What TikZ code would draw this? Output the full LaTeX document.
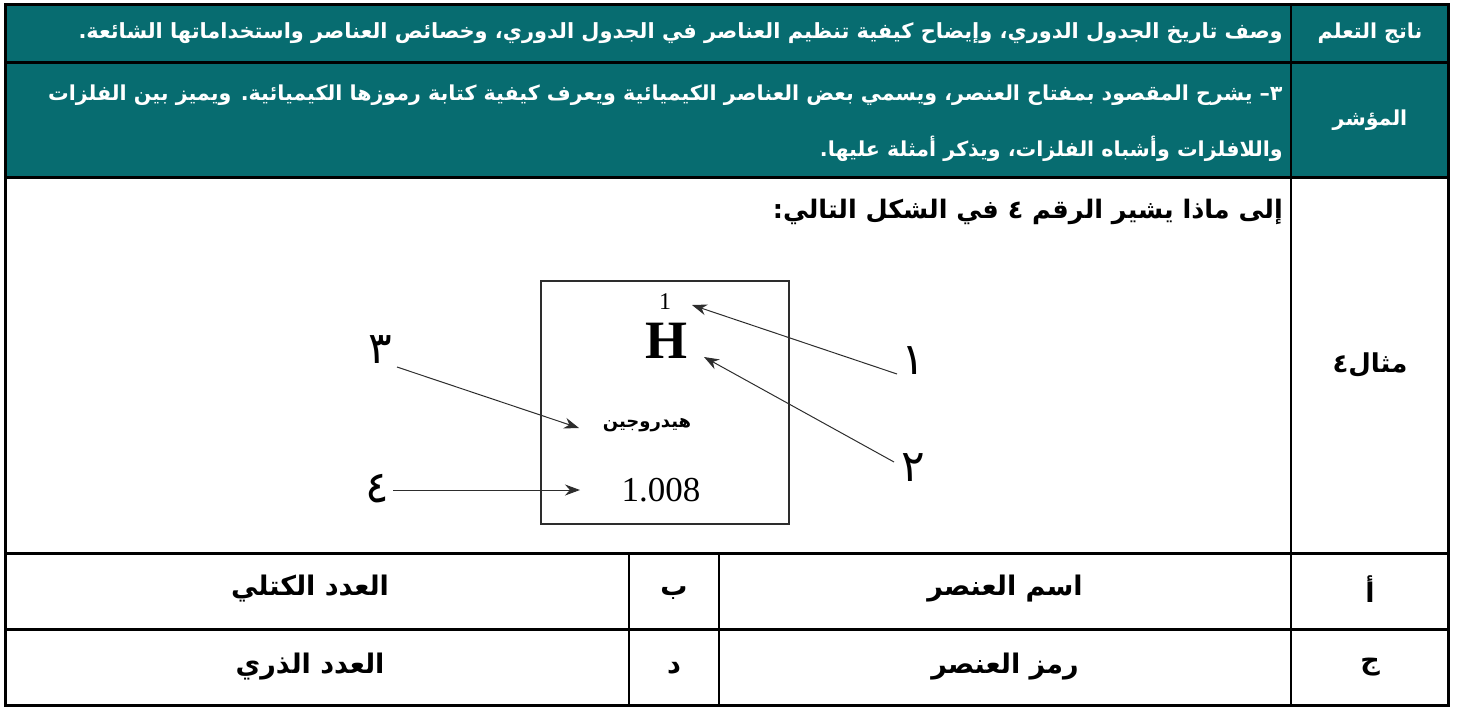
\documentclass[tikz,border=0pt]{standalone}
\usepackage{fontspec}
\usetikzlibrary{arrows.meta}
\TeXXeTstate=1
\setmainfont{Liberation Serif}
\newfontfamily\arabicfont[Script=Arabic]{DejaVu Sans}
\definecolor{hdrteal}{RGB}{7,108,112}
\definecolor{arrgray}{RGB}{45,45,45}
\tikzset{
  hdrtext/.style={text=white, inner sep=0pt, font=\arabicfont\bfseries\fontsize{20.6}{24}\selectfont},
  bodytext/.style={text=black, inner sep=0pt, font=\arabicfont\bfseries\fontsize{27}{30}\selectfont},
  numlabel/.style={text=black, inner sep=0pt, font=\arabicfont\fontsize{44}{48}\selectfont},
  ptr/.style={-{Stealth[length=15pt,width=11pt]}, draw=arrgray, line width=1pt},
  thick3/.style={line width=3pt},
  thin2/.style={line width=2.2pt}
}
\begin{document}
\begin{tikzpicture}[x=1pt,y=-1pt]
\useasboundingbox (0,0) rectangle (1458,707);
% header fill
\fill[hdrteal] (5,4) rectangle (1448,177);
% table grid
\draw[thick3] (5,62) -- (1448,62);
\draw[thick3] (5,177) -- (1448,177);
\draw[thick3] (5,553) -- (1448,553);
\draw[thick3] (5,629) -- (1448,629);
\draw[thin2] (1291,4) -- (1291,705);
\draw[thin2] (629,553) -- (629,705);
\draw[thin2] (719,553) -- (719,705);
\draw[thick3] (5,4) rectangle (1448,705);

% header texts
\node[hdrtext] (lo) at (1370,33) {\beginR ناتج التعلم\endR};
\node[hdrtext, anchor=east, font=\arabicfont\bfseries\fontsize{20.9}{24}\selectfont] (lotext) at (1283,33) {\beginR وصف تاريخ الجدول الدوري، وإيضاح كيفية تنظيم العناصر في الجدول الدوري، وخصائص العناصر واستخداماتها الشائعة.\endR};
\node[hdrtext] (ind) at (1370,120) {\beginR المؤشر\endR};
\node[hdrtext, anchor=east] (indtext1) at (1283,95) {\beginR ٣– يشرح المقصود بمفتاح العنصر، ويسمي بعض العناصر الكيميائية ويعرف كيفية كتابة رموزها الكيميائية. ويميز بين الفلزات\endR};
\node[hdrtext, anchor=east] (indtext2) at (1283,149) {\beginR واللافلزات وأشباه الفلزات، ويذكر أمثلة عليها.\endR};

% example row
\node[bodytext, font=\arabicfont\bfseries\fontsize{26}{30}\selectfont] (ex) at (1370,365) {\beginR مثال٤\endR};
\node[bodytext, anchor=east, font=\arabicfont\bfseries\fontsize{25.5}{30}\selectfont] (q) at (1283,212) {\beginR إلى ماذا يشير الرقم ٤ في الشكل التالي:\endR};

% element box
\draw[line width=2pt, draw=arrgray] (541,281) rectangle (789,524);
\node[inner sep=0pt, font=\fontsize{24}{26}\selectfont] (anum) at (665,302) {1};
\node[inner sep=0pt, font=\bfseries\fontsize{54}{56}\selectfont] (sym) at (666,341) {H};
\node[inner sep=0pt, font=\arabicfont\bfseries\fontsize{18}{20}\selectfont] (name) at (647,425) {\beginR هيدروجين\endR};
\node[inner sep=0pt, font=\fontsize{35}{38}\selectfont] (mass) at (661,490) {1.008};

% number labels
\node[numlabel] (n3) at (380,350) {٣};
\node[numlabel] (n1) at (913,361) {١};
\node[numlabel] (n2) at (913,468) {٢};
\node[numlabel] (n4) at (377,489) {٤};

\coordinate (t1) at (692,305);
\coordinate (t2) at (704,357);
\coordinate (t3) at (579,428);
\coordinate (t4) at (580,490);
\coordinate (s1) at (897,374);
\coordinate (s2) at (894,462);
\coordinate (s3) at (397,367);
\coordinate (s4) at (393,490);
\draw[ptr] (s1) -- (t1);
\draw[ptr] (s2) -- (t2);
\draw[ptr] (s3) -- (t3);
\draw[ptr] (s4) -- (t4);

% answer rows
\node[bodytext] (a1) at (1370,589) {\beginR أ\endR};
\node[bodytext] (a2) at (1005,589) {\beginR اسم العنصر\endR};
\node[bodytext] (b1) at (674,593) {\beginR ب\endR};
\node[bodytext] (b2) at (310,589) {\beginR العدد الكتلي\endR};
\node[bodytext] (c1) at (1370,667) {\beginR ج\endR};
\node[bodytext] (c2) at (1005,667) {\beginR رمز العنصر\endR};
\node[bodytext] (d1) at (674,668) {\beginR د\endR};
\node[bodytext] (d2) at (310,667) {\beginR العدد الذري\endR};
\end{tikzpicture}
\end{document}
